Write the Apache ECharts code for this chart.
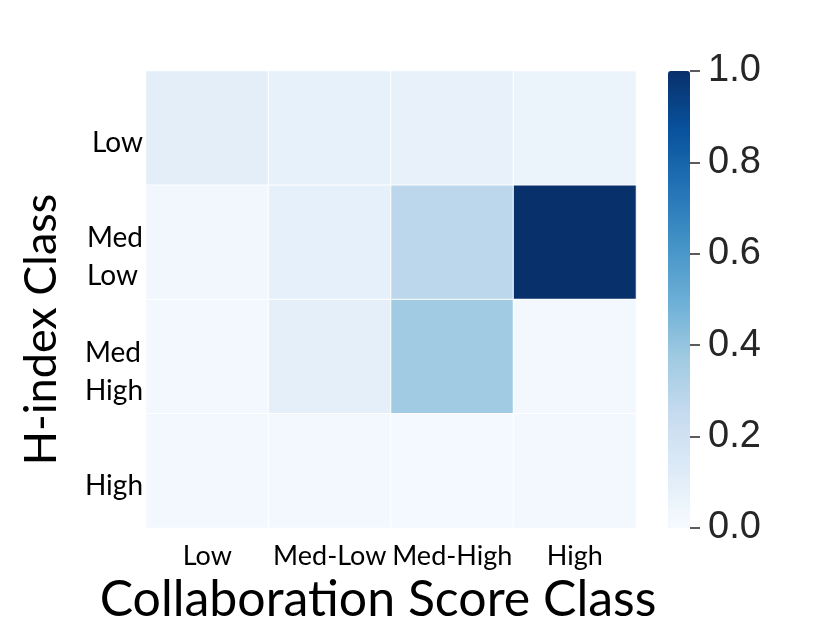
<!DOCTYPE html>
<html>
<head>
<meta charset="utf-8">
<script src="https://cdn.jsdelivr.net/npm/echarts@6/dist/echarts.min.js"></script>
<style>
  html, body { margin: 0; padding: 0; background: #fff; }
  #chart { width: 830px; height: 642px; }
</style>
</head>
<body>
<div id="chart"></div>
<script>
// categories
var collabClasses = ["Low", "Med-Low", "Med-High", "High"];
var hindexClasses = ["Low", "Med\nLow", "Med\nHigh", "High"];

// one row per H-index class (top to bottom), values per collaboration class
var rowLow = [0.10, 0.08, 0.075, 0.055];
var rowMedLow = [0.03, 0.085, 0.28, 1.0];
var rowMedHigh = [0.02, 0.095, 0.37, 0.025];
var rowHigh = [0.02, 0.02, 0.018, 0.025];
var rows = [rowLow, rowMedLow, rowMedHigh, rowHigh];

// matplotlib "Blues"
var blues = ["#f7fbff", "#deebf7", "#c6dbef", "#9ecae1", "#6baed6", "#4292c6", "#2171b5", "#08519c", "#08306b"];

var cells = [];
for (var i = 0; i < rows.length; i++) {
    for (var j = 0; j < rows[i].length; j++) {
        cells.push([j, i, rows[i][j]]);
    }
}

var labelFont = "Lato";
var chart = echarts.init(document.getElementById("chart"));

var option = {
    backgroundColor: "#ffffff",
    animation: false,
    grid: [
        { left: 146, top: 71, width: 490, height: 457 },
        //colorbar axis
        { left: 668, top: 71, width: 22, height: 457 }
    ],
    xAxis: [
        {
            type: "category",
            gridIndex: 0,
            data: collabClasses,
            axisLine: { show: false },
            axisTick: { show: false },
            splitLine: { show: false },
            axisLabel: { fontFamily: labelFont, fontSize: 27, color: "#000", margin: 15, interval: 0 },
            name: "Collaboration Score Class",
            nameLocation: "middle",
            nameGap: 9,
            nameTextStyle: { fontFamily: labelFont, fontSize: 50, color: "#000", padding: [0, 26, 0, 0] }
        },
        {
            type: "category",
            gridIndex: 1,
            show: false,
            data: [""]
        }
    ],
    yAxis: [
        {
            type: "category",
            gridIndex: 0,
            data: hindexClasses,
            inverse: true,
            axisLine: { show: false },
            axisTick: { show: false },
            splitLine: { show: false },
            axisLabel: {
                fontFamily: labelFont, fontSize: 28, color: "#000", margin: 3, align: "right",
                formatter: function (v) {
                    // lines left-aligned inside the block, block pushed a little down
                    return "{s| }\n" + v.split("\n").map(function (t) { return "{a|" + t + "}"; }).join("\n");
                },
                rich: {
                    s: { lineHeight: 30, fontSize: 10 },
                    a: { fontFamily: labelFont, fontSize: 28, color: "#000", lineHeight: 38, align: "left" }
                }
            },
            name: "H-index Class",
            nameLocation: "middle",
            nameRotate: 90,
            nameGap: 82,
            nameTextStyle: { fontFamily: labelFont, fontSize: 45, color: "#000", padding: [0, 60, 0, 0] }
        },
        {
            type: "value",
            gridIndex: 1,
            position: "right",
            min: 0,
            max: 1,
            interval: 0.2,
            axisLine: { show: false, onZero: false },
            axisTick: { show: true, length: 10, lineStyle: { color: "#262626", width: 1.5 } },
            splitLine: { show: false },
            axisLabel: {
                fontFamily: "Liberation Sans",
                fontSize: 38,
                color: "#262626",
                margin: 18,
                formatter: function (v) { return v.toFixed(1); }
            }
        }
    ],
    visualMap: {
        type: "continuous",
        seriesIndex: 0,
        min: 0,
        max: 1,
        calculable: false,
        hoverLink: false,
        left: 668,
        top: 71,
        padding: 0,
        itemWidth: 22,
        itemHeight: 457,
        text: ["", ""],
        showLabel: false,
        inRange: { color: blues }
    },
    series: [
        {
            type: "heatmap",
            xAxisIndex: 0,
            yAxisIndex: 0,
            data: cells,
            itemStyle: { borderColor: "#ffffff", borderWidth: 1 },
            emphasis: { disabled: true }
        },
        {
            // empty holder so the colorbar axis is drawn
            type: "line",
            xAxisIndex: 1,
            yAxisIndex: 1,
            data: [],
            silent: true
        }
    ]
};
chart.setOption(option);
</script>
</body>
</html>
